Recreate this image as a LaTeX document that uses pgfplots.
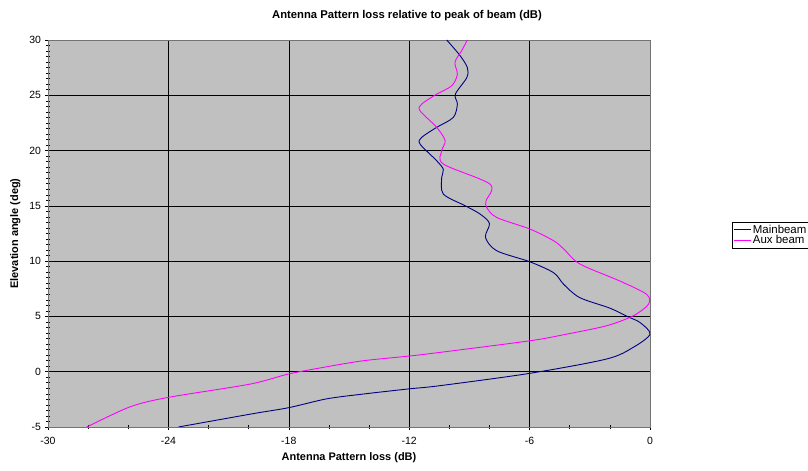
\documentclass[border=0pt]{standalone}
\usepackage{pgfplots}
\pgfplotsset{compat=1.18}
\usepackage{fontspec}
\setmainfont{Liberation Sans}
\definecolor{navyc}{HTML}{000080}
\definecolor{magc}{HTML}{FF00FF}
\definecolor{bggray}{HTML}{C0C0C0}
\begin{document}
\begin{tikzpicture}
\useasboundingbox (0,0) rectangle (808bp,471bp);
\begin{axis}[
  at={(48bp,44bp)}, anchor=south west,
  scale only axis, width=602bp, height=387bp,
  xmin=-30, xmax=0, ymin=-5, ymax=30,
  xtick={-30,-24,-18,-12,-6,0},
  ytick={-5,0,5,10,15,20,25,30},
  minor x tick num=2,
  minor y tick num=9,
  tick align=center,
  major tick length=5bp, minor tick length=4bp,
  tick style={black, line width=0.6pt},
  xtick pos=bottom, ytick pos=left,
  grid=major,
  major grid style={black, line width=0.6pt},
  axis background/.style={fill=bggray},
  axis line style={black!55, line width=0.8pt},
  /pgf/number format/assume math mode=true,
  ticklabel style={font=\fontsize{10.5}{12}\selectfont},
  xticklabel style={yshift=-4bp},
  yticklabel style={xshift=-1bp},
  title={\bfseries Antenna Pattern loss relative to peak of beam (dB)},
  title style={font=\fontsize{11.3}{12}\selectfont, at={(0.5964,1)}, anchor=south, yshift=10bp},
  xlabel={\bfseries Antenna Pattern loss (dB)},
  ylabel={\bfseries Elevation angle (deg)},
  label style={font=\fontsize{11}{12}\selectfont},
  xlabel style={yshift=-1bp},
  ylabel style={yshift=2bp},
  legend style={at={(1.136,0.496)}, anchor=west, draw=black, line width=0.5pt,
    font=\fontsize{11.5}{12}\selectfont, inner sep=1pt, row sep=-3pt, fill=white},
  legend cell align=left,
  legend image post style={line width=0.8pt},
]
\addplot[navyc, line width=0.9pt, smooth, tension=0.5] coordinates {
(-23.5,-5) (-19.8,-3.8) (-18.0,-3.25) (-16.1,-2.45) (-14.2,-2.0) (-12.0,-1.55)
(-10.5,-1.27) (-6.0,-0.15) (-2.16,1.15) (-0.84,2.2) (0,3.4) (-0.5,4.45)
(-1.1,4.97) (-2.0,5.75) (-3.5,6.7) (-4.3,7.9) (-4.8,8.95) (-6.0,9.95)
(-7.64,10.94) (-8.2,12.15) (-8.0,13.4) (-8.47,14.26) (-9.2,15.0) (-10.3,16.07)
(-10.38,17.57) (-10.3,18.3) (-10.63,19.08) (-11.46,20.59) (-11.38,21.19)
(-10.63,22.1) (-9.8,23.0) (-9.6,24.2) (-9.7,25.1) (-9.13,26.6) (-9.1,27.5)
(-9.47,28.6) (-10.13,30)
};
\addlegendentry{Mainbeam}
\addplot[magc, line width=0.9pt, smooth, tension=0.5] coordinates {
(-28.07,-5) (-25.9,-3.17) (-24.0,-2.32) (-19.93,-1.12) (-18.02,-0.21)
(-16.1,0.45) (-14.3,0.99) (-12.04,1.41) (-10.46,1.75) (-5.98,2.8) (-4.15,3.4)
(-2.16,4.16) (-0.83,5.06) (-0.08,6.1) (-0.17,7.0) (-1.5,8.2) (-3.49,9.74)
(-4.3,11.1) (-4.8,11.84) (-5.98,12.9) (-7.64,13.95) (-8.14,14.86) (-8.17,15.46)
(-7.97,16.96) (-10.3,18.78) (-10.38,19.98) (-10.21,20.89) (-10.63,22.1)
(-11.46,23.6) (-11.38,24.2) (-10.63,25.1) (-9.88,25.86) (-9.6,26.9)
(-9.72,27.98) (-9.38,29.05) (-9.1,30)
};
\addlegendentry{Aux beam}
\end{axis}
\end{tikzpicture}
\end{document}
